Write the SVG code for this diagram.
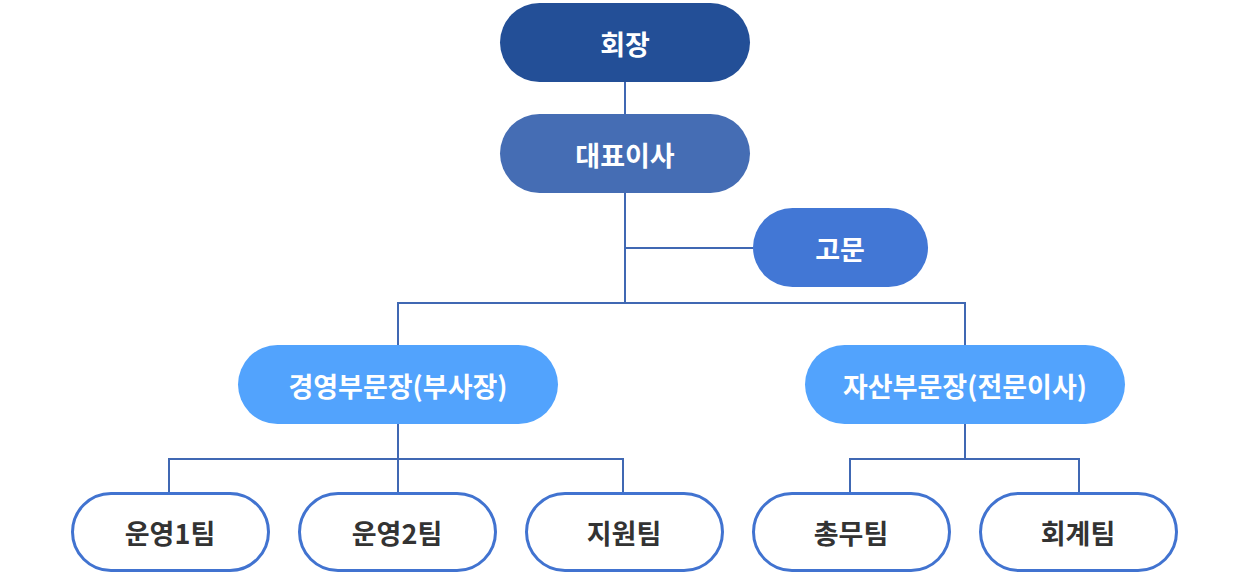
<svg xmlns="http://www.w3.org/2000/svg" width="1249" height="577" viewBox="0 0 1249 577">
<style>
.t{font-family:"Noto Sans CJK KR","Noto Sans",sans-serif;font-size:27px;font-weight:700;text-anchor:middle;dominant-baseline:central}
.w{fill:#ffffff}
.d{fill:#333333}
.team{fill:#ffffff;stroke:#4173d0;stroke-width:3}
.c{fill:none;stroke:#4068b3;stroke-width:2}
</style>
<rect width="1249" height="577" fill="#ffffff"/>
<g id="connectors">
<path class="c" d="M625 82V303M625 248H753M398 345V303H965V345"/>
<path class="c" d="M398 424V459M169 492V459H623V492M398 459V492"/>
<path class="c" d="M965 424V459M850 492V459H1079V492"/>
</g>
<g id="n-chairman"><rect x="500" y="3" width="250" height="79" rx="39.5" fill="#234f97"/><text class="t w" x="625" y="43">회장</text></g>
<g id="n-ceo"><rect x="500" y="114" width="250" height="79" rx="39.5" fill="#456db4"/><text class="t w" x="625" y="154">대표이사</text></g>
<g id="n-advisor"><rect x="753" y="208" width="175" height="79" rx="39.5" fill="#4277d5"/><text class="t w" x="840" y="248">고문</text></g>
<g id="n-mgmt"><rect x="238" y="345" width="320" height="79" rx="39.5" fill="#52a3fd"/><text class="t w" x="398" y="385">경영부문장(부사장)</text></g>
<g id="n-asset"><rect x="805" y="345" width="320" height="79" rx="39.5" fill="#52a3fd"/><text class="t w" x="965" y="385">자산부문장(전문이사)</text></g>
<g id="n-op1"><rect class="team" x="72.5" y="493.5" width="196" height="77" rx="38.5"/><text class="t d" x="170" y="532">운영1팀</text></g>
<g id="n-op2"><rect class="team" x="299.5" y="493.5" width="196" height="77" rx="38.5"/><text class="t d" x="397" y="532">운영2팀</text></g>
<g id="n-support"><rect class="team" x="526.5" y="493.5" width="196" height="77" rx="38.5"/><text class="t d" x="624" y="532">지원팀</text></g>
<g id="n-general"><rect class="team" x="753.5" y="493.5" width="196" height="77" rx="38.5"/><text class="t d" x="851" y="532">총무팀</text></g>
<g id="n-account"><rect class="team" x="980.5" y="493.5" width="196" height="77" rx="38.5"/><text class="t d" x="1078" y="532">회계팀</text></g>
</svg>
